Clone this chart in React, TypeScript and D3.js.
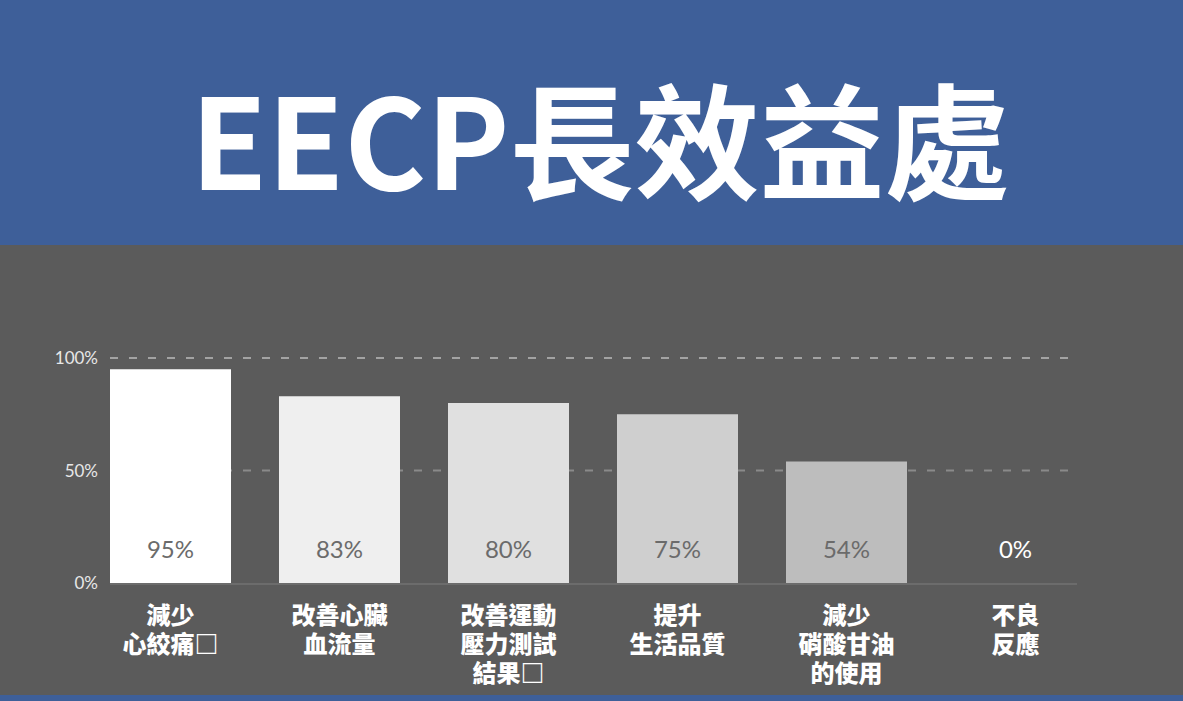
import React from 'react';
import * as d3 from 'd3';

const categories = ['減少心絞痛', '改善心臟血流量', '改善運動壓力測試結果', '提升生活品質', '減少硝酸甘油的使用', '不良反應'];
const categoryLines = [
  ['減少', '心絞痛□'],
  ['改善心臟', '血流量'],
  ['改善運動', '壓力測試', '結果□'],
  ['提升', '生活品質'],
  ['減少', '硝酸甘油', '的使用'],
  ['不良', '反應'],
];
const values = [95, 83, 80, 75, 54, 0];
const barColors = ['#ffffff', '#efefef', '#e0e0e0', '#cfcfcf', '#bdbdbd', '#adadad'];
const yTicks = [0, 50, 100];

const W = 1183;
const H = 701;
const CJK = '"Noto Sans CJK TC", "Noto Sans CJK SC", sans-serif';
const LATIN = 'Lato, "Noto Sans", sans-serif';

const App: React.FC = () => {
  const x = d3.scaleBand<string>().domain(categories).range([110, 1076]).paddingInner(0.284).paddingOuter(0);
  const y = d3.scaleLinear().domain([0, 100]).range([583, 358]);

  return (
    <svg width={W} height={H} style={{ position: 'absolute', left: 0, top: 0 }}>
      <rect x={0} y={0} width={W} height={H} fill="#5b5b5b" />
      <rect x={0} y={0} width={W} height={245} fill="#3e5f99" />
      <rect x={0} y={695} width={W} height={6} fill="#3e5f99" />

      <text x={600} y={190} textAnchor="middle" fill="#ffffff" fontFamily={CJK} fontWeight={700} fontSize={125}>
        EECP長效益處
      </text>

      {/* gridlines */}
      {yTicks
        .filter((t) => t > 0)
        .map((t) => (
          <line
            key={t}
            x1={110}
            x2={1077}
            y1={y(t)}
            y2={y(t)}
            stroke={t === 100 ? '#a3a3a3' : '#8a8a8a'}
            strokeWidth={2}
            strokeDasharray="8 11"
          />
        ))}

      {/* bars */}
      {categories.map((c, i) => (
        <rect
          key={c}
          x={x(c)}
          y={y(values[i])}
          width={x.bandwidth()}
          height={y(0) - y(values[i])}
          fill={barColors[i]}
        />
      ))}

      {/* axis line */}
      <line x1={110} x2={1077} y1={y(0) + 1} y2={y(0) + 1} stroke="#6c6c6c" strokeWidth={2} />

      {/* y tick labels */}
      {yTicks.map((t) => (
        <text key={t} x={98} y={y(t) + 6} textAnchor="end" fill="#e8e8e8" fontFamily={LATIN} fontSize={17}>
          {t}%
        </text>
      ))}

      {/* value labels */}
      {categories.map((c, i) => (
        <text
          key={c}
          x={(x(c) || 0) + x.bandwidth() / 2}
          y={558}
          textAnchor="middle"
          fill={values[i] === 0 ? '#ffffff' : '#6b6b6b'}
          fontFamily={LATIN}
          fontSize={24}
        >
          {values[i]}%
        </text>
      ))}

      {/* category labels */}
      {categories.map((c, i) => (
        <text
          key={c}
          x={(x(c) || 0) + x.bandwidth() / 2}
          textAnchor="middle"
          fill="#ffffff"
          fontFamily={CJK}
          fontWeight={900}
          fontSize={24}
        >
          {categoryLines[i].map((line, j) => (
            <tspan key={j} x={(x(c) || 0) + x.bandwidth() / 2} y={624 + j * 29}>
              {line}
            </tspan>
          ))}
        </text>
      ))}
    </svg>
  );
};

export default App;
